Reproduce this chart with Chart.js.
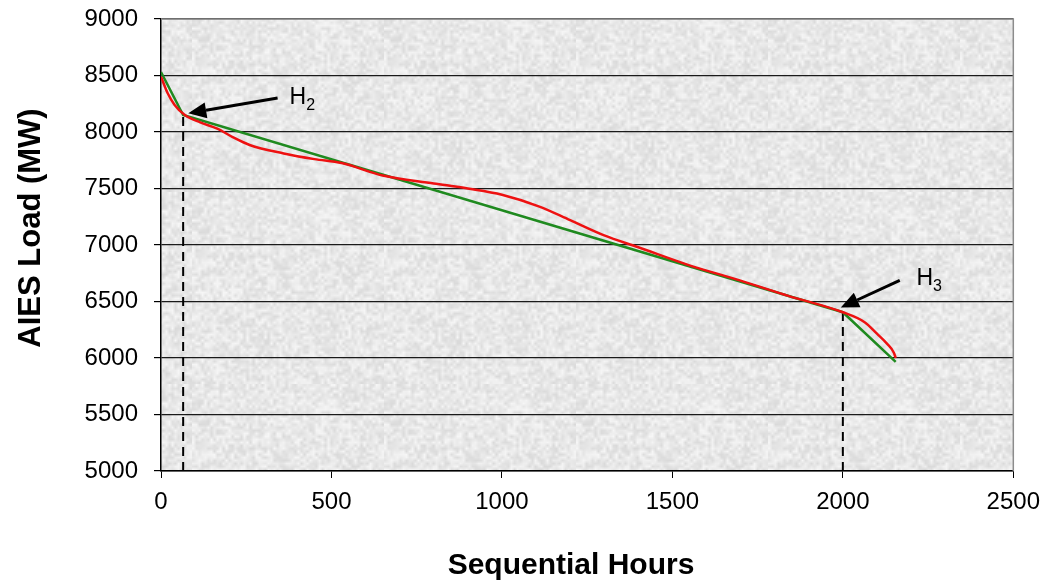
<!DOCTYPE html>
<html>
<head>
<meta charset="utf-8">
<title>AIES Load duration</title>
<script src="https://cdn.jsdelivr.net/npm/chart.js@4/dist/chart.umd.min.js"></script>
<style>
  html, body { margin: 0; padding: 0; background: #fff; }
  #wrap { width: 1050px; height: 584px; position: relative; }
</style>
</head>
<body>
<div id="wrap"><canvas id="loadChart" width="1050" height="584"></canvas></div>
<script>
// data (hours, MW)
const redHours = [0, 20, 40, 70, 115, 165, 210, 260, 360, 450, 530, 650, 800, 900, 1000, 1110, 1200, 1300, 1400, 1550, 1700, 1840, 2000, 2065, 2100, 2130, 2150, 2155];
const redLoad  = [8490, 8340, 8240, 8150, 8085, 8030, 7955, 7885, 7810, 7760, 7725, 7615, 7545, 7500, 7445, 7340, 7220, 7085, 6980, 6820, 6685, 6550, 6405, 6315, 6215, 6125, 6045, 6000];

const greenHours = [0, 65, 2000, 2155];
const greenLoad  = [8530, 8150, 6405, 5965];

// breakpoints H2, H3 (dashed drop lines)
const breakHours = [65, 2000];
const breakLoad  = [8150, 6405];
const breakNames = ['2', '3'];

// arrows: tail and head in data units, label anchor
const arrowTail  = [[342, 8300], [2167, 6686]];
const arrowHead  = [[80, 8165], [1994, 6447]];
const labelPos   = [[377, 8246], [2216, 6642]];

const xTicks = [0, 500, 1000, 1500, 2000, 2500];
const yTicks = [5000, 5500, 6000, 6500, 7000, 7500, 8000, 8500, 9000];

const FONT = '"Liberation Sans", Arial, sans-serif';

function toPts(xs, ys){
	return xs.map((x, i) => ({x: x, y: ys[i]}));
}

// textured grey background, built from a hash so it is the same every run
function makeTexture(){
	const n = 64;
	const small = document.createElement('canvas');
	small.width = n; small.height = n;
	const sctx = small.getContext('2d');
	const img = sctx.createImageData(n, n);
	for (let i = 0; i < n * n; i++) {
		let h = (i * 374761393 + 668265263) | 0;
		h = (h ^ (h >>> 13)) * 1274126177 | 0;
		h = h ^ (h >>> 16);
		const v = 232 + ((h & 255) / 255 - 0.5) * 28;
		img.data[i*4] = v; img.data[i*4+1] = v; img.data[i*4+2] = v; img.data[i*4+3] = 255;
	}
	sctx.putImageData(img, 0, 0);
	const big = document.createElement('canvas');
	big.width = n * 3; big.height = n * 3;
	const bctx = big.getContext('2d');
	bctx.imageSmoothingEnabled = true;
	bctx.drawImage(small, 0, 0, n * 3, n * 3);
	return big;
}
const texture = makeTexture();

const decorPlugin = {
	id: 'decor',
	beforeDraw(chart){
		const {ctx, chartArea: a} = chart;
		ctx.save();
		ctx.fillStyle = ctx.createPattern(texture, 'repeat');
		ctx.fillRect(a.left, a.top, a.right - a.left, a.bottom - a.top);
		ctx.restore();
	},
	afterDraw(chart){
		const {ctx, chartArea: a} = chart;
		const xs = chart.scales.x, ys = chart.scales.y;
		ctx.save();
		// top and right frame
		ctx.strokeStyle = '#8c8c8c';
		ctx.lineWidth = 1.5;
		ctx.beginPath();
		ctx.moveTo(a.left, a.top);
		ctx.lineTo(a.right, a.top);
		ctx.lineTo(a.right, a.bottom);
		ctx.stroke();

		// arrows + H labels
		for (let i = 0; i < arrowTail.length; i++) {
			const x0 = xs.getPixelForValue(arrowTail[i][0]), y0 = ys.getPixelForValue(arrowTail[i][1]);
			const x1 = xs.getPixelForValue(arrowHead[i][0]), y1 = ys.getPixelForValue(arrowHead[i][1]);
			const ang = Math.atan2(y1 - y0, x1 - x0);
			const hl = 18, hw = 8;
			const bx = x1 - hl * Math.cos(ang), by = y1 - hl * Math.sin(ang);
			ctx.strokeStyle = '#000';
			ctx.lineWidth = 3;
			ctx.beginPath();
			ctx.moveTo(x0, y0);
			ctx.lineTo(bx, by);
			ctx.stroke();
			ctx.fillStyle = '#000';
			ctx.beginPath();
			ctx.moveTo(x1, y1);
			ctx.lineTo(bx + hw * Math.sin(ang), by - hw * Math.cos(ang));
			ctx.lineTo(bx - hw * Math.sin(ang), by + hw * Math.cos(ang));
			ctx.closePath();
			ctx.fill();

			const lx = xs.getPixelForValue(labelPos[i][0]), ly = ys.getPixelForValue(labelPos[i][1]);
			ctx.textAlign = 'left';
			ctx.textBaseline = 'alphabetic';
			ctx.font = '23px ' + FONT;
			ctx.fillText('H', lx, ly);
			const w = ctx.measureText('H').width;
			ctx.font = '16px ' + FONT;
			ctx.fillText(breakNames[i], lx + w, ly + 6);
		}

		// axis titles
		ctx.fillStyle = '#000';
		ctx.font = 'bold 30px ' + FONT;
		ctx.textAlign = 'center';
		ctx.textBaseline = 'middle';
		ctx.fillText('Sequential Hours', 571, 566);
		ctx.translate(31, 228);
		ctx.rotate(-Math.PI / 2);
		ctx.font = 'bold 31px ' + FONT;
		ctx.fillText('AIES Load (MW)', 0, 0);
		ctx.restore();
	}
};

const datasets = [
	{
		label: 'Load',
		data: toPts(redHours, redLoad),
		borderColor: '#ee1111',
		borderWidth: 2.5,
		cubicInterpolationMode: 'monotone',
		pointRadius: 0
	},
	{
		label: 'Approximation',
		data: toPts(greenHours, greenLoad),
		borderColor: '#1f8a1f',
		borderWidth: 2.5,
		pointRadius: 0
	}
];
breakHours.forEach((h, i) => {
	datasets.push({
		label: 'H' + breakNames[i],
		data: [{x: h, y: yTicks[0]}, {x: h, y: breakLoad[i]}],
		borderColor: '#000',
		borderWidth: 2,
		borderDash: [9, 6],
		pointRadius: 0
	});
});

const ctx = document.getElementById('loadChart').getContext('2d');
const myChart = new Chart(ctx, {
	type: 'scatter',
	data: { datasets: datasets },
	options: {
		responsive: false,
		animation: false,
		showLine: true,
		layout: { padding: { top: 19, right: 36, bottom: 0, left: 0 } },
		plugins: { legend: { display: false }, tooltip: { enabled: false } },
		scales: {
			x: {
				type: 'linear',
				min: xTicks[0],
				max: xTicks[xTicks.length - 1],
				afterBuildTicks: s => { s.ticks = xTicks.map(v => ({value: v})); },
				afterFit: s => { s.height = 113; },
				grid: { drawOnChartArea: false, drawTicks: true, tickLength: 7, tickColor: '#000', tickWidth: 1 },
				border: { color: '#000', width: 1.5 },
				ticks: { color: '#000', font: { family: FONT, size: 24 }, padding: 10, maxRotation: 0, callback: v => String(v) }
			},
			y: {
				type: 'linear',
				min: yTicks[0],
				max: yTicks[yTicks.length - 1],
				afterBuildTicks: s => { s.ticks = yTicks.map(v => ({value: v})); },
				afterFit: s => { s.width = 161; },
				grid: { color: '#1a1a1a', lineWidth: 1.2, drawTicks: true, tickLength: 7, tickColor: '#000' },
				border: { color: '#000', width: 1.5 },
				// small lineHeight keeps the label padding from pushing the plot down
				ticks: { color: '#000', font: { family: FONT, size: 24, lineHeight: 0.2 }, padding: 16, callback: v => String(v) }
			}
		}
	},
	plugins: [decorPlugin]
});
</script>
</body>
</html>
